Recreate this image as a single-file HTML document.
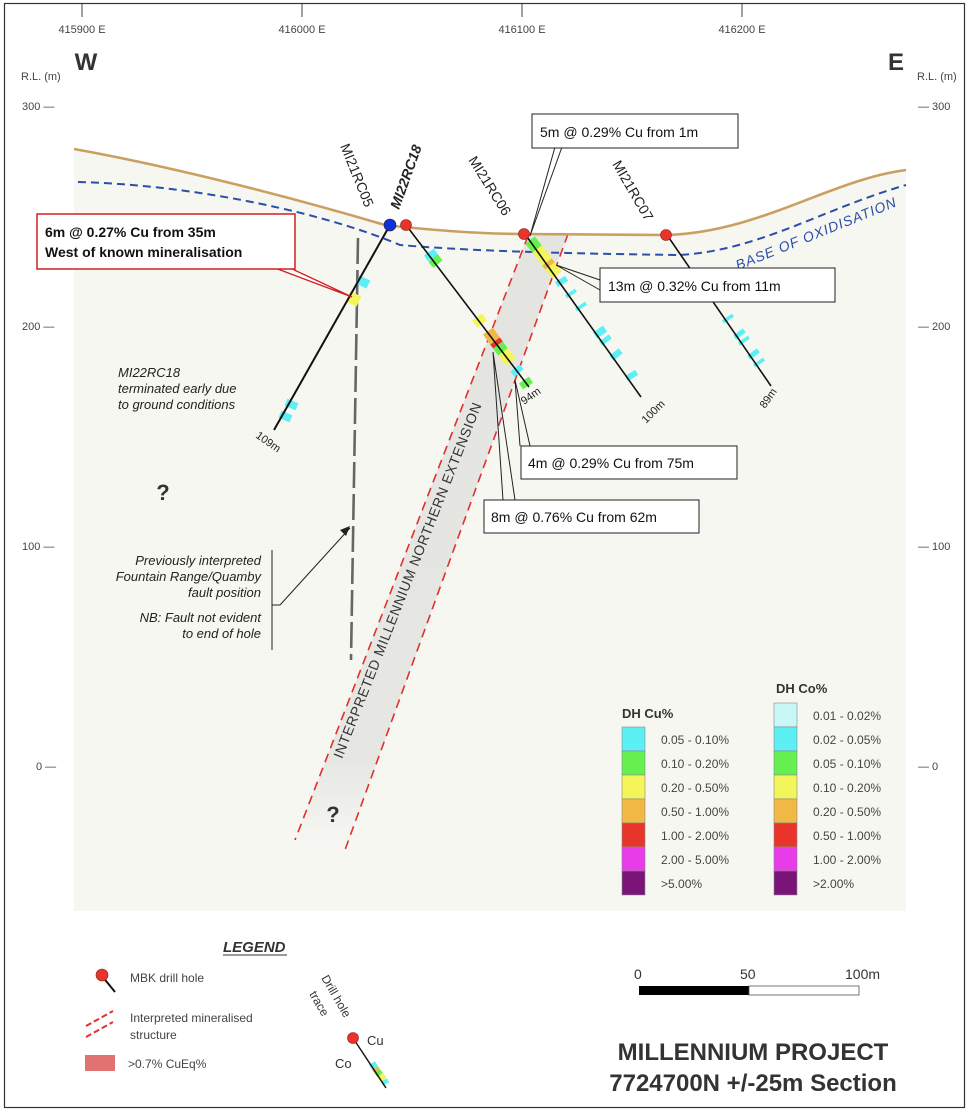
<!DOCTYPE html>
<html><head><meta charset="utf-8">
<style>
html,body{margin:0;padding:0;background:#fff;}
svg{display:block;font-family:"Liberation Sans",Arial,sans-serif;}
</style></head>
<body>
<svg width="977" height="1119" viewBox="0 0 977 1119" xmlns="http://www.w3.org/2000/svg">
<defs>
<linearGradient id="bandg" x1="0" y1="0" x2="0" y2="1">
<stop offset="0" stop-color="#e4e4e0"/><stop offset="0.85" stop-color="#e6e6e2"/><stop offset="1" stop-color="#f7f7f3"/>
</linearGradient>
</defs>
<rect x="0" y="0" width="977" height="1119" fill="#fff"/>
<rect x="4.5" y="3.5" width="960" height="1104" fill="#fff" stroke="#333" stroke-width="1.2"/>
<path d="M74,149 C180,168 300,200 385,225 C430,230 480,234 525,234 L667,235 C760,232 830,180 906,170 L906,911 L74,911 Z" fill="#f7f7f2"/>

<g stroke="#444" stroke-width="1">
<line x1="82" y1="4" x2="82" y2="17"/><line x1="302" y1="4" x2="302" y2="17"/>
<line x1="522" y1="4" x2="522" y2="17"/><line x1="742" y1="4" x2="742" y2="17"/>
</g>
<g font-size="11" fill="#444" text-anchor="middle">
<text x="82" y="33">415900 E</text><text x="302" y="33">416000 E</text>
<text x="522" y="33">416100 E</text><text x="742" y="33">416200 E</text>
</g>
<text x="86" y="70" font-size="24" font-weight="bold" fill="#333" text-anchor="middle">W</text>
<text x="896" y="70" font-size="24" font-weight="bold" fill="#333" text-anchor="middle">E</text>
<g font-size="11" fill="#444">
<text x="21" y="80">R.L. (m)</text><text x="917" y="80">R.L. (m)</text>
<text x="22" y="110">300 —</text><text x="918" y="110">— 300</text>
<text x="22" y="330">200 —</text><text x="918" y="330">— 200</text>
<text x="22" y="550">100 —</text><text x="918" y="550">— 100</text>
<text x="36" y="770">0 —</text><text x="918" y="770">— 0</text>
</g>

<polygon points="528,236 568,234 345,850 295,840" fill="url(#bandg)"/>
<line x1="528" y1="236" x2="295" y2="840" stroke="#e03030" stroke-width="1.6" stroke-dasharray="9,6"/>
<line x1="568" y1="234" x2="345" y2="850" stroke="#e03030" stroke-width="1.6" stroke-dasharray="9,6"/>
<text transform="translate(412,582) rotate(-68.5)" font-size="14" fill="#333" text-anchor="middle" letter-spacing="0.6">INTERPRETED MILLENNIUM  NORTHERN EXTENSION</text>
<text x="333" y="822" font-size="22" font-weight="bold" fill="#333" text-anchor="middle">?</text>
<text x="163" y="500" font-size="22" font-weight="bold" fill="#333" text-anchor="middle">?</text>

<line x1="358" y1="238" x2="351" y2="660" stroke="#666" stroke-width="2.6" stroke-dasharray="26,6"/>

<path d="M74,149 C180,168 300,200 385,225 C430,230 480,234 525,234 L667,235 C760,232 830,180 906,170" fill="none" stroke="#c9a062" stroke-width="2.6"/>
<path d="M78,182 C200,185 330,215 400,245 C480,252 600,254 680,255 C760,250 820,210 906,185" fill="none" stroke="#2b4fa8" stroke-width="2" stroke-dasharray="8,5"/>
<text transform="translate(818,238) rotate(-22)" font-size="14" font-style="italic" fill="#2b4fa8" text-anchor="middle" letter-spacing="1">BASE  OF  OXIDISATION</text>

<g stroke-width="12">
<line x1="365" y1="278" x2="361" y2="286" stroke="#5cf0f5"/>
<line x1="356" y1="294" x2="351" y2="304" stroke="#f3f55a"/>
<line x1="293" y1="401" x2="290" y2="408" stroke="#5cf0f5"/>
<line x1="287" y1="413" x2="284" y2="420" stroke="#5cf0f5"/>
<line x1="429" y1="252" x2="433" y2="258" stroke="#5cf0f5"/>
<line x1="433" y1="258" x2="438" y2="264" stroke="#66f050"/>
<line x1="477" y1="317" x2="482" y2="324" stroke="#f3f55a"/>
<line x1="488" y1="331" x2="495" y2="341" stroke="#f2b845"/>
<line x1="495" y1="341" x2="498" y2="345" stroke="#e8342a"/>
<line x1="498" y1="345" x2="503" y2="352" stroke="#66f050"/>
<line x1="503" y1="352" x2="511" y2="362" stroke="#f3f55a"/>
<line x1="515" y1="368" x2="519" y2="373" stroke="#5cf0f5"/>
<line x1="524" y1="380" x2="528" y2="386" stroke="#66f050"/>
<line x1="530" y1="240" x2="537" y2="249" stroke="#66f050"/>
<line x1="537" y1="249" x2="547" y2="262" stroke="#f3f55a"/>
<line x1="547" y1="262" x2="550" y2="266" stroke="#f2b845"/>
<line x1="550" y1="266" x2="557" y2="275" stroke="#f3f55a"/>
<line x1="560" y1="279" x2="563" y2="284" stroke="#5cf0f5"/>
<line x1="570" y1="292" x2="572" y2="295" stroke="#5cf0f5"/>
<line x1="580" y1="305" x2="582" y2="308" stroke="#5cf0f5"/>
<line x1="598" y1="329" x2="602" y2="335" stroke="#5cf0f5"/>
<line x1="604" y1="338" x2="607" y2="342" stroke="#5cf0f5"/>
<line x1="614" y1="352" x2="618" y2="357" stroke="#5cf0f5"/>
<line x1="630" y1="373" x2="633" y2="378" stroke="#5cf0f5"/>
<line x1="727" y1="317" x2="729" y2="320" stroke="#5cf0f5"/>
<line x1="738" y1="332" x2="741" y2="336" stroke="#5cf0f5"/>
<line x1="743" y1="339" x2="745" y2="342" stroke="#5cf0f5"/>
<line x1="752" y1="352" x2="755" y2="356" stroke="#5cf0f5"/>
<line x1="758" y1="361" x2="760" y2="364" stroke="#5cf0f5"/>
</g>

<g stroke="#111" stroke-width="2">
<line x1="390" y1="225" x2="274" y2="430"/>
<line x1="406" y1="225" x2="529" y2="387" stroke-width="1.6"/>
<line x1="525" y1="234" x2="641" y2="397" stroke-width="1.6"/>
<line x1="667" y1="235" x2="771" y2="386" stroke-width="1.6"/>
</g>
<circle cx="390" cy="225" r="6" fill="#1030e0" stroke="#222" stroke-width="0.6"/>
<circle cx="406" cy="225" r="5.5" fill="#e8342a" stroke="#822" stroke-width="0.6"/>
<circle cx="524" cy="234" r="5.5" fill="#e8342a" stroke="#822" stroke-width="0.6"/>
<circle cx="666" cy="235" r="5.5" fill="#e8342a" stroke="#822" stroke-width="0.6"/>

<g font-size="11" fill="#222">
<text transform="translate(255,437) rotate(35)">109m</text>
<text transform="translate(524,405) rotate(-35)">94m</text>
<text transform="translate(646,424) rotate(-45)">100m</text>
<text transform="translate(765,409) rotate(-55)">89m</text>
</g>
<g font-size="14" fill="#222">
<text transform="translate(340,146) rotate(68)">MI21RC05</text>
<text transform="translate(399,210) rotate(-70)" font-weight="bold" font-style="italic">MI22RC18</text>
<text transform="translate(468,160) rotate(58)">MI21RC06</text>
<text transform="translate(612,164) rotate(60)">MI21RC07</text>
</g>

<g fill="none" stroke="#222" stroke-width="1">
<polyline points="562,147 530,236 555,147"/>
<polyline points="600,290 556,265 600,280"/>
<polyline points="530,446 515,380 520,446"/>
<polyline points="515,500 493,352 503,500"/>
<polyline points="280,605 350,528"/>
<line x1="272" y1="550" x2="272" y2="650"/>
<line x1="272" y1="605" x2="280" y2="605"/>
</g>
<polygon points="350,526 340,530 346,536" fill="#222"/>
<polyline points="275,268 352,297 290,268" fill="#fff" stroke="#d02020" stroke-width="1.3"/>
<rect x="37" y="214" width="258" height="55" fill="#fff" stroke="#d02020" stroke-width="1.5"/>
<text x="45" y="237" font-size="14" font-weight="bold" fill="#111">6m @ 0.27% Cu from 35m</text>
<text x="45" y="257" font-size="14" font-weight="bold" fill="#111">West of known mineralisation</text>

<g fill="#fff" stroke="#222" stroke-width="1">
<rect x="532" y="114" width="206" height="34"/>
<rect x="600" y="268" width="235" height="34"/>
<rect x="521" y="446" width="216" height="33"/>
<rect x="484" y="500" width="215" height="33"/>
</g>
<g font-size="14" fill="#111">
<text x="540" y="137">5m @ 0.29% Cu from 1m</text>
<text x="608" y="291">13m @ 0.32% Cu from 11m</text>
<text x="528" y="468">4m @ 0.29% Cu from 75m</text>
<text x="491" y="522">8m @ 0.76% Cu from 62m</text>
</g>

<g font-size="13" font-style="italic" fill="#222">
<text x="118" y="377">MI22RC18</text>
<text x="118" y="393">terminated early due</text>
<text x="118" y="409">to ground conditions</text>
<g text-anchor="end">
<text x="261" y="565">Previously interpreted</text>
<text x="261" y="581">Fountain Range/Quamby</text>
<text x="261" y="597">fault position</text>
<text x="261" y="622">NB: Fault not evident</text>
<text x="261" y="638">to end of hole</text>
</g>
</g>

<g font-size="13" fill="#333" font-weight="bold">
<text x="622" y="718">DH Cu%</text><text x="776" y="693">DH Co%</text>
</g>
<g stroke="#888" stroke-width="0.6">
<rect x="622" y="727" width="23" height="24" fill="#5cf0f5"/>
<rect x="622" y="751" width="23" height="24" fill="#66f050"/>
<rect x="622" y="775" width="23" height="24" fill="#f3f55a"/>
<rect x="622" y="799" width="23" height="24" fill="#f2b845"/>
<rect x="622" y="823" width="23" height="24" fill="#e8342a"/>
<rect x="622" y="847" width="23" height="24" fill="#e83ce8"/>
<rect x="622" y="871" width="23" height="24" fill="#7a1478"/>
<rect x="774" y="703" width="23" height="24" fill="#c8f7f7"/>
<rect x="774" y="727" width="23" height="24" fill="#5cf0f5"/>
<rect x="774" y="751" width="23" height="24" fill="#66f050"/>
<rect x="774" y="775" width="23" height="24" fill="#f3f55a"/>
<rect x="774" y="799" width="23" height="24" fill="#f2b845"/>
<rect x="774" y="823" width="23" height="24" fill="#e8342a"/>
<rect x="774" y="847" width="23" height="24" fill="#e83ce8"/>
<rect x="774" y="871" width="23" height="24" fill="#7a1478"/>
</g>
<g font-size="12" fill="#444">
<text x="661" y="744">0.05 - 0.10%</text><text x="661" y="768">0.10 - 0.20%</text>
<text x="661" y="792">0.20 - 0.50%</text><text x="661" y="816">0.50 - 1.00%</text>
<text x="661" y="840">1.00 - 2.00%</text><text x="661" y="864">2.00 - 5.00%</text>
<text x="661" y="888">&gt;5.00%</text>
<text x="813" y="720">0.01 - 0.02%</text><text x="813" y="744">0.02 - 0.05%</text>
<text x="813" y="768">0.05 - 0.10%</text><text x="813" y="792">0.10 - 0.20%</text>
<text x="813" y="816">0.20 - 0.50%</text><text x="813" y="840">0.50 - 1.00%</text>
<text x="813" y="864">1.00 - 2.00%</text><text x="813" y="888">&gt;2.00%</text>
</g>

<text x="223" y="952" font-size="15" font-weight="bold" font-style="italic" fill="#333">LEGEND</text>
<line x1="223" y1="955" x2="287" y2="955" stroke="#333" stroke-width="1"/>
<line x1="102" y1="976" x2="115" y2="992" stroke="#111" stroke-width="2"/>
<circle cx="102" cy="975" r="6" fill="#e8342a" stroke="#822" stroke-width="0.6"/>
<g font-size="12" fill="#444">
<text x="130" y="982">MBK drill hole</text>
<text x="130" y="1022">Interpreted mineralised</text>
<text x="130" y="1039">structure</text>
<text x="128" y="1068">&gt;0.7% CuEq%</text>
</g>
<line x1="86" y1="1037" x2="113" y2="1022" stroke="#e03030" stroke-width="2" stroke-dasharray="6,3"/>
<line x1="86" y1="1026" x2="113" y2="1011" stroke="#e03030" stroke-width="2" stroke-dasharray="6,3"/>
<rect x="85" y="1055" width="30" height="16" fill="#e07272"/>
<text transform="translate(321,978) rotate(60)" font-size="12" fill="#333">Drill hole</text>
<text transform="translate(309,994) rotate(60)" font-size="12" fill="#333">trace</text>
<g stroke-width="7">
<line x1="372" y1="1063" x2="375" y2="1068" stroke="#5cf0f5"/>
<line x1="375" y1="1068" x2="377" y2="1071" stroke="#f2b845"/>
<line x1="377" y1="1071" x2="380" y2="1075" stroke="#66f050"/>
<line x1="380" y1="1075" x2="384" y2="1080" stroke="#f3f55a"/>
<line x1="384" y1="1080" x2="386" y2="1084" stroke="#5cf0f5"/>
</g>
<line x1="353" y1="1038" x2="386" y2="1088" stroke="#111" stroke-width="1.4"/>
<circle cx="353" cy="1038" r="5.5" fill="#e8342a" stroke="#822" stroke-width="0.6"/>
<text x="367" y="1045" font-size="13" fill="#333">Cu</text>
<text x="335" y="1068" font-size="13" fill="#333">Co</text>

<g font-size="14" fill="#333">
<text x="634" y="979">0</text><text x="740" y="979">50</text><text x="845" y="979">100m</text>
</g>
<rect x="639" y="986" width="110" height="9" fill="#000"/>
<rect x="749" y="986" width="110" height="9" fill="#fff" stroke="#555" stroke-width="0.8"/>

<g font-size="24" font-weight="bold" fill="#333" text-anchor="middle">
<text x="753" y="1060">MILLENNIUM PROJECT</text>
<text x="753" y="1091">7724700N +/-25m Section</text>
</g>
</svg>
</body></html>
